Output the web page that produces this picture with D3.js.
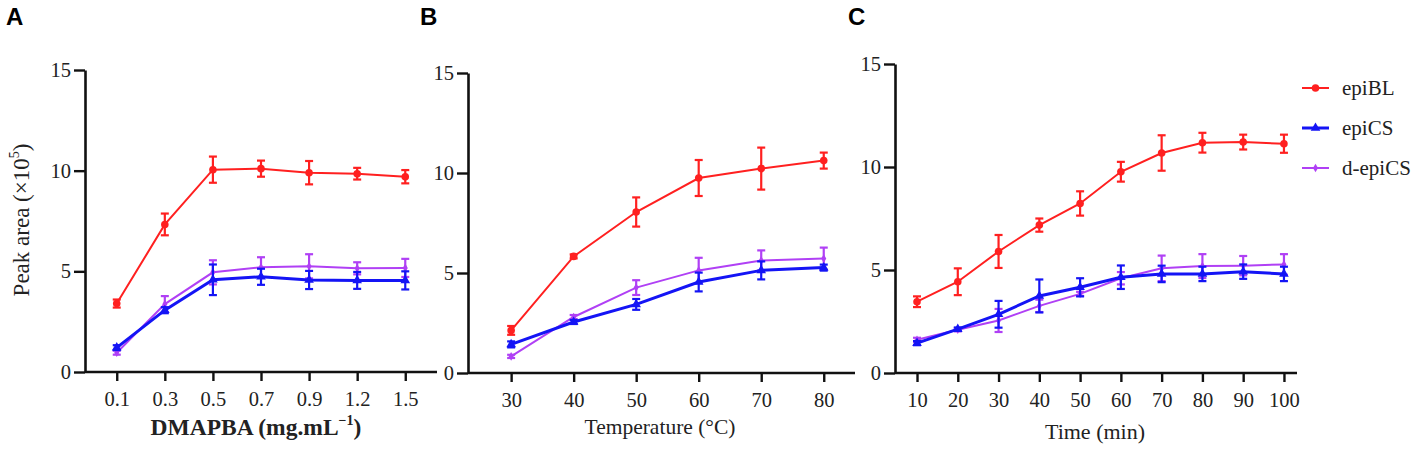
<!DOCTYPE html>
<html><head><meta charset="utf-8">
<script src="https://cdn.jsdelivr.net/npm/d3@7/dist/d3.min.js"></script>
<style>
body{margin:0;background:#fff;}
svg{display:block;}
</style></head>
<body>
<svg id="chart" width="1417" height="450"></svg>
<script>
// ---------- data ----------
const doseLabels = ["0.1","0.3","0.5","0.7","0.9","1.2","1.5"];
const tempLabels = [30,40,50,60,70,80];
const timeLabels = [10,20,30,40,50,60,70,80,90,100];
const yTicks = [0,5,10,15];
const seriesNames = ["epiBL","epiCS","d-epiCS"];

const aEpiBL     = [3.4, 7.33, 10.05, 10.1, 9.9, 9.85, 9.7];
const aEpiBLErr  = [0.2, 0.54, 0.65, 0.4, 0.58, 0.29, 0.33];
const aEpiCS     = [1.21, 3.07, 4.58, 4.73, 4.57, 4.55, 4.55];
const aEpiCSErr  = [0.12, 0.15, 0.76, 0.4, 0.45, 0.42, 0.45];
const aDEpiCS    = [0.96, 3.37, 4.95, 5.2, 5.25, 5.15, 5.17];
const aDEpiCSErr = [0.1, 0.4, 0.6, 0.5, 0.6, 0.3, 0.45];

const bEpiBL     = [2.13, 5.83, 8.05, 9.75, 10.22, 10.62];
const bEpiBLErr  = [0.22, 0.1, 0.73, 0.9, 1.05, 0.4];
const bEpiCS     = [1.43, 2.55, 3.43, 4.55, 5.13, 5.27];
const bEpiCSErr  = [0.15, 0.1, 0.27, 0.47, 0.45, 0.15];
const bDEpiCS    = [0.83, 2.8, 4.27, 5.13, 5.63, 5.72];
const bDEpiCSErr = [0.08, 0.1, 0.37, 0.63, 0.5, 0.55];

const cEpiBL     = [3.46, 4.43, 5.9, 7.18, 8.23, 9.77, 10.68, 11.18, 11.21, 11.13];
const cEpiBLErr  = [0.26, 0.65, 0.8, 0.32, 0.59, 0.48, 0.86, 0.48, 0.36, 0.44];
const cEpiCS     = [1.45, 2.13, 2.85, 3.74, 4.16, 4.65, 4.81, 4.81, 4.92, 4.81];
const cEpiCSErr  = [0.1, 0.08, 0.65, 0.8, 0.44, 0.57, 0.4, 0.35, 0.35, 0.35];
const cDEpiCS    = [1.61, 2.1, 2.55, 3.26, 3.84, 4.6, 5.08, 5.19, 5.21, 5.27];
const cDEpiCSErr = [0.1, 0.08, 0.56, 0.3, 0.1, 0.3, 0.62, 0.58, 0.47, 0.5];

// ---------- styles ----------
const colors = {"epiBL":"#ff2020","epiCS":"#1414f5","d-epiCS":"#b040f5"};
const widths = {"epiBL":2,"epiCS":3,"d-epiCS":2};
const symbols = {"epiBL":d3.symbolCircle,"epiCS":d3.symbolTriangle,"d-epiCS":d3.symbolDiamond};
const symSize = {"epiBL":45,"epiCS":40,"d-epiCS":22};
const FONT = '"Liberation Serif","Times New Roman",serif';

const svg = d3.select("#chart");

function panel(cfg){
  const g = svg.append("g");
  const x = cfg.x, y = cfg.y;
  const ya = g.append("g").attr("transform",`translate(${cfg.x0},0)`)
    .call(d3.axisLeft(y).tickValues(yTicks).tickSize(11).tickSizeOuter(0).tickPadding(3));
  const xa = g.append("g").attr("transform",`translate(0,${y(0)})`)
    .call(d3.axisBottom(x).tickValues(cfg.ticks).tickSize(9).tickSizeOuter(0).tickPadding(10).tickFormat(cfg.fmt||null));
  [ya,xa].forEach(a=>{
    a.select(".domain").attr("stroke","#111").attr("stroke-width",2.6);
    a.selectAll(".tick line").attr("stroke","#111").attr("stroke-width",2.4);
    a.selectAll(".tick text").attr("font-family",FONT).attr("font-size",20.5).attr("fill","#222");
  });
  xa.select(".domain").attr("d",`M${cfg.x0},0H${cfg.x1}`);
  const order = ["d-epiCS","epiCS","epiBL"];
  order.forEach(name=>{
    const vals = cfg.data[name][0], errs = cfg.data[name][1];
    const pts = cfg.ticks.map((t,i)=>({x:x(t), v:vals[i], e:errs[i]}));
    const c = colors[name];
    g.append("path").datum(pts)
      .attr("d",d3.line().x(d=>d.x).y(d=>y(d.v)))
      .attr("fill","none").attr("stroke",c).attr("stroke-width",widths[name]);
    const eb = g.append("g").attr("stroke",c).attr("stroke-width",2.2);
    pts.forEach(d=>{
      eb.append("line").attr("x1",d.x).attr("x2",d.x).attr("y1",y(d.v-d.e)).attr("y2",y(d.v+d.e));
      eb.append("line").attr("x1",d.x-4).attr("x2",d.x+4).attr("y1",y(d.v-d.e)).attr("y2",y(d.v-d.e));
      eb.append("line").attr("x1",d.x-4).attr("x2",d.x+4).attr("y1",y(d.v+d.e)).attr("y2",y(d.v+d.e));
    });
    g.append("g").selectAll("path").data(pts).join("path")
      .attr("transform",d=>`translate(${d.x},${y(d.v)})`)
      .attr("d",d3.symbol().type(symbols[name]).size(symSize[name]))
      .attr("fill",c);
  });
  svg.append("text").attr("x",cfg.lx).attr("y",25).text(cfg.letter)
    .attr("font-family",'"Liberation Sans",Arial,sans-serif').attr("font-weight","bold").attr("font-size",24).attr("fill","#000");
  return g;
}

// Panel A
const xA = d3.scalePoint().domain(doseLabels).range([85,437]).padding(0.66);
const yA = d3.scaleLinear().domain([0,15]).range([372,70]);
panel({x:xA,y:yA,x0:85,x1:437,ticks:doseLabels,letter:"A",lx:6,
  data:{"epiBL":[aEpiBL,aEpiBLErr],"epiCS":[aEpiCS,aEpiCSErr],"d-epiCS":[aDEpiCS,aDEpiCSErr]}});

// Panel B
const xB = d3.scaleLinear().domain([23.1,85]).range([468,855]);
const yB = d3.scaleLinear().domain([0,15]).range([373,73]);
panel({x:xB,y:yB,x0:468,x1:855,ticks:tempLabels,letter:"B",lx:420,fmt:d3.format("d"),
  data:{"epiBL":[bEpiBL,bEpiBLErr],"epiCS":[bEpiCS,bEpiCSErr],"d-epiCS":[bDEpiCS,bDEpiCSErr]}});

// Panel C
const xC = d3.scaleLinear().domain([4.6,103.2]).range([895,1297]);
const yC = d3.scaleLinear().domain([0,15]).range([373,64]);
panel({x:xC,y:yC,x0:895,x1:1297,ticks:timeLabels,letter:"C",lx:848,fmt:d3.format("d"),
  data:{"epiBL":[cEpiBL,cEpiBLErr],"epiCS":[cEpiCS,cEpiCSErr],"d-epiCS":[cDEpiCS,cDEpiCSErr]}});

// Y axis title (panel A)
const yt = svg.append("text").attr("transform","translate(29,220) rotate(-90)")
  .attr("text-anchor","middle").attr("font-family",FONT).attr("font-size",23).attr("fill","#222");
yt.append("tspan").text("Peak area (×10");
yt.append("tspan").text("5").attr("font-size",14).attr("dy",-10);
yt.append("tspan").text(")").attr("dy",10);

// X axis titles
const xt = svg.append("text").attr("x",256).attr("y",435).attr("text-anchor","middle")
  .attr("font-family",FONT).attr("font-size",23.5).attr("font-weight","bold").attr("fill","#222");
xt.append("tspan").text("DMAPBA (mg.mL");
xt.append("tspan").text("−1").attr("font-size",14).attr("dy",-10);
xt.append("tspan").text(")").attr("dy",10);

svg.append("text").attr("x",660).attr("y",434).attr("text-anchor","middle")
  .attr("font-family",FONT).attr("font-size",21.5).attr("fill","#222").text("Temperature (°C)");
svg.append("text").attr("x",1095).attr("y",439).attr("text-anchor","middle")
  .attr("font-family",FONT).attr("font-size",22).attr("fill","#222").text("Time (min)");

// Legend
const legY = d3.scalePoint().domain(seriesNames).range([88,168]);
const leg = svg.append("g");
seriesNames.forEach(name=>{
  const yy = legY(name), c = colors[name];
  leg.append("line").attr("x1",1302).attr("x2",1329).attr("y1",yy).attr("y2",yy)
    .attr("stroke",c).attr("stroke-width",widths[name]);
  leg.append("path").attr("transform",`translate(1315.5,${yy})`)
    .attr("d",d3.symbol().type(symbols[name]).size(symSize[name])).attr("fill",c);
  leg.append("text").attr("x",1342).attr("y",yy).attr("dy","0.32em")
    .attr("font-family",FONT).attr("font-size",21).attr("fill","#222").text(name);
});
</script>
</body></html>
